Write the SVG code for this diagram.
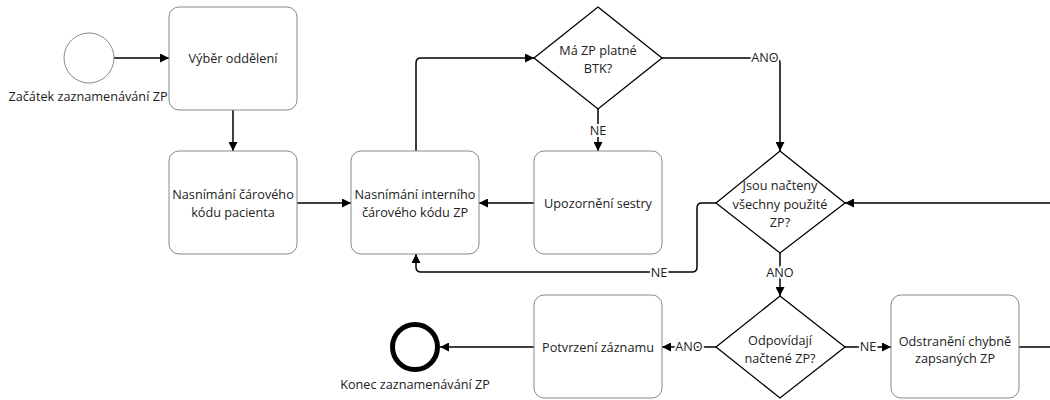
<svg xmlns="http://www.w3.org/2000/svg" width="1050" height="400" viewBox="0 0 1050 400">
  <style>
    .task { fill: #ffffff; stroke: #8a8a8a; stroke-width: 1; }
    .gate { fill: #ffffff; stroke: #000000; stroke-width: 1.3; }
    .txt { font-family: "Open Sans", "Noto Sans", sans-serif; font-size: 12.7px; fill: #222222; text-anchor: middle; }
    .lbl { font-family: "Open Sans", "Noto Sans", sans-serif; font-size: 12.7px; fill: #222222; text-anchor: middle; paint-order: stroke; stroke: #ffffff; stroke-width: 4px; }
    .flow { fill: none; stroke: #000000; stroke-width: 1.5; }
    .arr { marker-end: url(#head); }
  </style>
  <defs>
    <marker id="head" viewBox="0 0 10 10" refX="10" refY="5" markerWidth="9" markerHeight="9" markerUnits="userSpaceOnUse" orient="auto">
      <path d="M0,0 L10,5 L0,10 Z" fill="#000000"/>
    </marker>
  </defs>

  <!-- sequence flows -->
  <g id="connectors">
    <path class="flow arr" d="M114,58 H169"/>
    <path class="flow arr" d="M233,110 V151"/>
    <path class="flow arr" d="M297,203 H351"/>
    <path class="flow arr" d="M534,203 H479"/>
    <path class="flow arr" d="M416,151 V63 Q416,58 421,58 H534"/>
    <path class="flow arr" d="M598,109 V151"/>
    <path class="flow arr" d="M662,58 H775 Q780,58 780,63 V151"/>
    <path class="flow arr" d="M1050,203 H845"/>
    <path class="flow arr" d="M716,203 H702 Q697,203 697,208 V267 Q697,272 692,272 H421 Q416,272 416,267 V254"/>
    <path class="flow arr" d="M780,253 V296"/>
    <path class="flow arr" d="M845,347 H891"/>
    <path class="flow" d="M1019,347 H1050"/>
    <path class="flow arr" d="M716,347 H662"/>
    <path class="flow arr" d="M534,347 H440"/>
    <text class="lbl" x="765" y="62">ANO</text>
    <text class="lbl" x="598" y="135">NE</text>
    <text class="lbl" x="659" y="277">NE</text>
    <text class="lbl" x="780" y="277">ANO</text>
    <text class="lbl" x="868" y="351">NE</text>
    <text class="lbl" x="689" y="351">ANO</text>
  </g>

  <g id="start">
    <circle cx="89" cy="58" r="25" fill="#ffffff" stroke="#8a8a8a" stroke-width="1"/>
    <text class="txt" x="88" y="101">Začátek zaznamenávání ZP</text>
  </g>

  <g id="vyber-oddeleni">
    <rect class="task" x="169" y="7" width="128" height="103" rx="10"/>
    <text class="txt" x="233" y="63">Výběr oddělení</text>
  </g>

  <g id="kod-pacienta">
    <rect class="task" x="169" y="151" width="128" height="103" rx="10"/>
    <text class="txt" x="233" y="199">Nasnímání čárového</text>
    <text class="txt" x="233" y="217">kódu pacienta</text>
  </g>

  <g id="kod-zp">
    <rect class="task" x="351" y="151" width="128" height="103" rx="10"/>
    <text class="txt" x="415" y="199">Nasnímání interního</text>
    <text class="txt" x="415" y="217">čárového kódu ZP</text>
  </g>

  <g id="upozorneni">
    <rect class="task" x="534" y="151" width="128" height="103" rx="10"/>
    <text class="txt" x="598" y="208">Upozornění sestry</text>
  </g>

  <g id="gate-btk">
    <path class="gate" d="M598,7 L662,58 L598,109 L534,58 Z"/>
    <text class="txt" x="598" y="55">Má ZP platné</text>
    <text class="txt" x="598" y="73">BTK?</text>
  </g>

  <g id="gate-nacteny">
    <path class="gate" d="M780,151 L845,203 L780,253 L716,203 Z"/>
    <text class="txt" x="780" y="190">Jsou načteny</text>
    <text class="txt" x="780" y="209">všechny použité</text>
    <text class="txt" x="780" y="227">ZP?</text>
  </g>

  <g id="gate-odpovidaji">
    <path class="gate" d="M780,296 L845,347 L780,398 L716,347 Z"/>
    <text class="txt" x="780" y="345">Odpovídají</text>
    <text class="txt" x="780" y="363">načtené ZP?</text>
  </g>

  <g id="odstraneni">
    <rect class="task" x="891" y="295" width="128" height="103" rx="10"/>
    <text class="txt" x="955" y="346">Odstranění chybně</text>
    <text class="txt" x="955" y="363">zapsaných ZP</text>
  </g>

  <g id="potvrzeni">
    <rect class="task" x="534" y="295" width="128" height="103" rx="10"/>
    <text class="txt" x="598" y="352">Potvrzení záznamu</text>
  </g>

  <g id="end">
    <circle cx="415" cy="347" r="22.5" fill="#ffffff" stroke="#000000" stroke-width="5"/>
    <text class="txt" x="415" y="389">Konec zaznamenávání ZP</text>
  </g>
</svg>
